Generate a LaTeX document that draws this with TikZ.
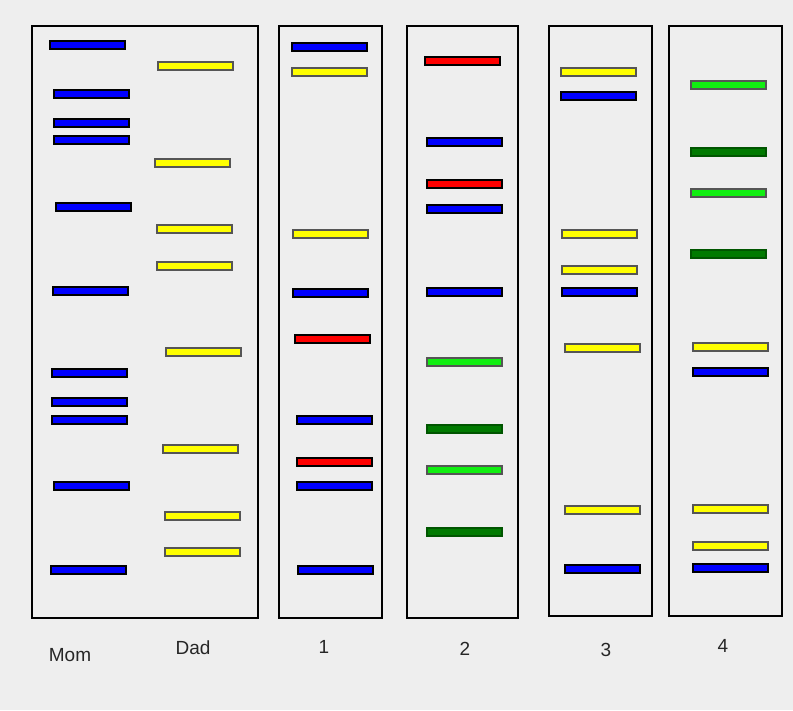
\documentclass[tikz,border=0pt]{standalone}
\usepackage{fontspec}
\setmainfont{Liberation Sans}
\definecolor{bg}{HTML}{EEEEEE}
\definecolor{gblue}{HTML}{0000FF}
\definecolor{gyellow}{HTML}{FFFF00}
\definecolor{gred}{HTML}{FF0000}
\definecolor{glime}{HTML}{11EE11}
\definecolor{gdark}{HTML}{007A00}
\definecolor{yedge}{HTML}{555555}
\newcommand\gelband[4]{\draw[band, draw=#4, fill=#3] (#1,#2-4) rectangle (#1+75,#2+4);}
\begin{document}
\begin{tikzpicture}[x=1pt,y=-1pt,
  band/.style={line width=1.6pt},
  lane/.style={draw=black, line width=1.4pt},
  lbl/.style={font=\fontsize{19}{22}\selectfont, text=black!85, inner sep=0pt}]
\fill[bg] (0,0) rectangle (793,710);
\useasboundingbox (0,0) rectangle (793,710);
% frames
\draw[lane] (32,26) rectangle (258,618);
\draw[lane] (279,26) rectangle (382,618);
\draw[lane] (407,26) rectangle (518,618);
\draw[lane] (549,26) rectangle (652,616);
\draw[lane] (669,26) rectangle (782,616);
% Mom
\gelband{50}{45}{gblue}{black}
\gelband{54}{94}{gblue}{black}
\gelband{54}{123}{gblue}{black}
\gelband{54}{140}{gblue}{black}
\gelband{56}{207}{gblue}{black}
\gelband{53}{291}{gblue}{black}
\gelband{52}{373}{gblue}{black}
\gelband{52}{402}{gblue}{black}
\gelband{52}{420}{gblue}{black}
\gelband{54}{486}{gblue}{black}
\gelband{51}{570}{gblue}{black}
% Dad
\gelband{158}{66}{gyellow}{yedge}
\gelband{155}{163}{gyellow}{yedge}
\gelband{157}{229}{gyellow}{yedge}
\gelband{157}{266}{gyellow}{yedge}
\gelband{166}{352}{gyellow}{yedge}
\gelband{163}{449}{gyellow}{yedge}
\gelband{165}{516}{gyellow}{yedge}
\gelband{165}{552}{gyellow}{yedge}
% Lane 1
\gelband{292}{47}{gblue}{black}
\gelband{292}{72}{gyellow}{yedge}
\gelband{293}{234}{gyellow}{yedge}
\gelband{293}{293}{gblue}{black}
\gelband{295}{339}{gred}{black}
\gelband{297}{420}{gblue}{black}
\gelband{297}{462}{gred}{black}
\gelband{297}{486}{gblue}{black}
\gelband{298}{570}{gblue}{black}
% Lane 2
\gelband{425}{61}{gred}{black}
\gelband{427}{142}{gblue}{black}
\gelband{427}{184}{gred}{black}
\gelband{427}{209}{gblue}{black}
\gelband{427}{292}{gblue}{black}
\gelband{427}{362}{glime}{yedge}
\gelband{427}{429}{gdark}{gdark!70!black}
\gelband{427}{470}{glime}{yedge}
\gelband{427}{532}{gdark}{gdark!70!black}
% Lane 3
\gelband{561}{72}{gyellow}{yedge}
\gelband{561}{96}{gblue}{black}
\gelband{562}{234}{gyellow}{yedge}
\gelband{562}{270}{gyellow}{yedge}
\gelband{562}{292}{gblue}{black}
\gelband{565}{348}{gyellow}{yedge}
\gelband{565}{510}{gyellow}{yedge}
\gelband{565}{569}{gblue}{black}
% Lane 4
\gelband{691}{85}{glime}{yedge}
\gelband{691}{152}{gdark}{gdark!70!black}
\gelband{691}{193}{glime}{yedge}
\gelband{691}{254}{gdark}{gdark!70!black}
\gelband{693}{347}{gyellow}{yedge}
\gelband{693}{372}{gblue}{black}
\gelband{693}{509}{gyellow}{yedge}
\gelband{693}{546}{gyellow}{yedge}
\gelband{693}{568}{gblue}{black}
% labels
\node[lbl] (mom) at (70,655) {Mom};
\node[lbl] (dad) at (193,648) {Dad};
\node[lbl] (l1) at (324,647) {1};
\node[lbl] (l2) at (465,649) {2};
\node[lbl] (l3) at (606,650) {3};
\node[lbl] (l4) at (723,646) {4};
\end{tikzpicture}
\end{document}
